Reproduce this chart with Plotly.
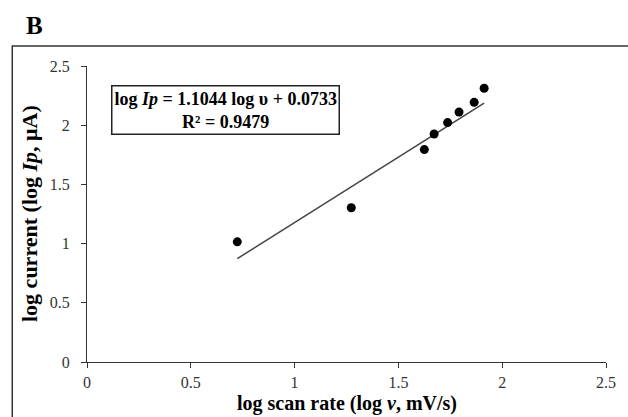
import plotly.graph_objects as go

# Data
log_scan_rate = [0.724, 1.273, 1.625, 1.672, 1.737, 1.792, 1.865, 1.913]
log_current = [1.015, 1.303, 1.794, 1.926, 2.022, 2.111, 2.193, 2.312]
slope = 1.1044
intercept = 0.0733
r_squared = 0.9479
x_ticks = [0, 0.5, 1, 1.5, 2, 2.5]
y_ticks = [0, 0.5, 1, 1.5, 2, 2.5]

fit_x = [min(log_scan_rate), max(log_scan_rate)]
fit_y = [slope * v + intercept for v in fit_x]

FONT = "Liberation Serif"

fig = go.Figure()
fig.add_trace(go.Scatter(x=fit_x, y=fit_y, mode="lines",
                         line=dict(color="#444444", width=1.5),
                         showlegend=False, hoverinfo="skip"))
fig.add_trace(go.Scatter(x=log_scan_rate, y=log_current, mode="markers",
                         marker=dict(color="black", size=9),
                         showlegend=False))

axis_common = dict(showline=True, linecolor="#333333", linewidth=1.3,
                   ticks="outside", ticklen=5, tickcolor="#333333",
                   showgrid=False, zeroline=False, mirror=False,
                   tickfont=dict(family=FONT, size=16, color="#333333"))

fig.update_xaxes(range=[0, 2.5], tickvals=x_ticks,
                 ticktext=[f"{t:g}" for t in x_ticks], ticklabelstandoff=1,
                 **axis_common)
fig.update_yaxes(range=[0, 2.5], tickvals=y_ticks,
                 ticktext=[f"{t:g}" for t in y_ticks], ticklabelstandoff=8,
                 **axis_common)

fig.update_layout(
    width=628, height=417,
    margin=dict(l=87, r=20, t=66, b=55),
    paper_bgcolor="white", plot_bgcolor="white",
    font=dict(family=FONT, color="black"),
    shapes=[dict(type="rect", xref="paper", yref="paper",
                 x0=-0.144, x1=1.2, y0=-0.3, y1=1.0676,
                 line=dict(color="#333333", width=1.5), layer="below")],
    annotations=[
        dict(text="<b>B</b>", xref="paper", yref="paper", x=-0.102, y=1.138,
             xanchor="center", yanchor="middle", showarrow=False,
             font=dict(family=FONT, size=25, color="black")),
        dict(text=f"<b>log <i>Ip</i> = {slope} log υ + {intercept}</b><br><b>R² = {r_squared}</b>",
             x=0.668, y=2.13, xref="x", yref="y", showarrow=False,
             xanchor="center", yanchor="middle", align="center",
             bordercolor="#222222", borderwidth=1.5, borderpad=2, bgcolor="white",
             font=dict(family=FONT, size=18, color="black")),
        dict(text="<b>log current (log <i>Ip</i>, μA)</b>", xref="paper", yref="paper",
             x=0, y=0.5, xshift=-58, textangle=-90, showarrow=False,
             xanchor="center", yanchor="middle",
             font=dict(family=FONT, size=22, color="black")),
        dict(text="<b>log scan rate (log <i>v</i>, mV/s)</b>", xref="paper", yref="paper",
             x=0.5, y=0, yshift=-55, showarrow=False, xanchor="center", yanchor="bottom",
             font=dict(family=FONT, size=20, color="black")),
    ],
)

fig.write_html("out.html")
